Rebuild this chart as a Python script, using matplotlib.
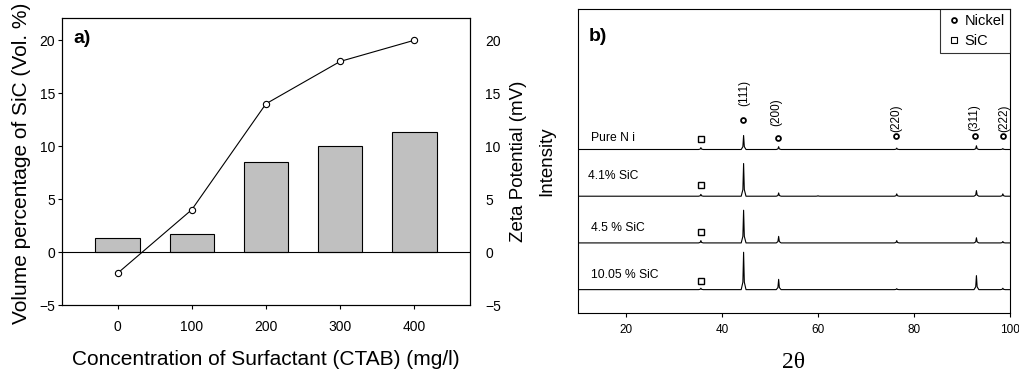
import numpy as np
import matplotlib
matplotlib.use('Agg')
from matplotlib import pyplot as plt
from matplotlib.lines import Line2D

plt.rcParams['font.family'] = ['Liberation Sans', 'DejaVu Sans']

# panel a data
ctab = [0, 100, 200, 300, 400]
sic_vol = [1.3, 1.7, 8.5, 10.05, 11.35]
zeta = [-2, 4, 14, 18, 20]

# panel b data: XRD patterns (peak positions and heights above baseline)
samples = ['10.05 % SiC', '4.5 % SiC', '4.1% SiC', 'Pure N i']
offsets = [0, 1, 2, 3]
peak_pos = [35.6, 44.5, 51.8, 60.0, 76.4, 93.0, 98.5]
peak_h = [
    [0.03, 0.80, 0.22, 0.00, 0.02, 0.30, 0.03],
    [0.05, 0.70, 0.14, 0.00, 0.05, 0.11, 0.03],
    [0.04, 0.70, 0.07, 0.01, 0.05, 0.12, 0.05],
    [0.04, 0.30, 0.06, 0.00, 0.03, 0.08, 0.02],
]
label_x = [12.7, 12.7, 12.1, 12.7]
label_dy = [0.32, 0.31, 0.43, 0.255]
sic_x = 35.6
sic_dy = [0.19, 0.23, 0.23, 0.23]
ni_x = [44.3, 51.7, 76.2, 92.8, 98.6]
ni_dy = [0.64, 0.25, 0.28, 0.28, 0.28]
hkl = ['(111)', '(200)', '(220)', '(311)', '(222)']
hkl_x = [44.6, 51.25, 76.4, 92.5, 98.75]
hkl_dy = [0.94, 0.51, 0.37, 0.39, 0.37]


def pattern(heights):
    xs = [10.0]
    ys = [0.0]
    for p, h in zip(peak_pos, heights):
        xs += [p - 0.5, p - 0.15, p, p + 0.15, p + 0.5]
        ys += [0.0, 0.2 * h, h, 0.2 * h, 0.0]
    xs.append(100.0)
    ys.append(0.0)
    return np.array(xs), np.array(ys)


fig = plt.figure(figsize=(10.19, 3.73), dpi=100)

# ---- panel a
ax = fig.add_axes([0.0608, 0.1823, 0.4004, 0.7694])
ax.bar(ctab, sic_vol, width=60, color='#c0c0c0', edgecolor='black', linewidth=0.8, zorder=2)
ax.axhline(0, color='black', linewidth=0.8, zorder=3)
ax.set_xlim(-75, 475)
ax.set_ylim(-5, 22.1)
ax.set_xticks(ctab)
ax.set_yticks([-5, 0, 5, 10, 15, 20])
ax.tick_params(labelsize=10, length=3, width=0.8, pad=2)
ax.tick_params(axis='x', pad=8)
ax.set_xlabel('Concentration of Surfactant (CTAB) (mg/l)', fontsize=15, va='center')
ax.xaxis.set_label_coords(0.5, -0.19)
ax.set_ylabel('Volume percentage of SiC (Vol. %)', fontsize=15, va='center')
ax.yaxis.set_label_coords(-0.098, 0.493)
ax.text(0.028, 0.93, 'a)', transform=ax.transAxes, fontsize=14, fontweight='bold', va='center')

ax2 = ax.twinx()
ax2.plot(ctab, zeta, color='black', linewidth=0.8, marker='o', markersize=4.5,
         markerfacecolor='white', markeredgecolor='black', markeredgewidth=0.8, zorder=4)
ax2.set_ylim(-5, 22.1)
ax2.set_yticks([-5, 0, 5, 10, 15, 20])
ax2.tick_params(labelsize=10, length=0, pad=11)
ax2.set_ylabel('Zeta Potential (mV)', fontsize=13.5, va='center')
ax2.yaxis.set_label_coords(1.12, 0.5)
for a in (ax, ax2):
    for s in a.spines.values():
        s.set_linewidth(0.8)

# ---- panel b
bx = fig.add_axes([0.5672, 0.1609, 0.424, 0.814])
for name, off, h, lx, ldy, sdy in zip(samples, offsets, peak_h, label_x, label_dy, sic_dy):
    xs, ys = pattern(h)
    bx.plot(xs, ys + off, color='black', linewidth=0.8)
    bx.text(lx, off + ldy, name, fontsize=8.7, va='center', ha='left')
    bx.plot([sic_x], [off + sdy], marker='s', markersize=5, markerfacecolor='white',
            markeredgecolor='black', markeredgewidth=1.0, linestyle='none')

top = offsets[-1]
for x, dy in zip(ni_x, ni_dy):
    bx.plot([x], [top + dy], marker='o', markersize=3.5, markerfacecolor='white',
            markeredgecolor='black', markeredgewidth=1.3, linestyle='none')
for t, x, dy in zip(hkl, hkl_x, hkl_dy):
    bx.text(x, top + dy, t, rotation=90, fontsize=8.5, ha='center', va='bottom')

bx.set_xlim(10, 100)
bx.set_ylim(-0.5, 6)
bx.set_xticks([20, 40, 60, 80, 100])
bx.set_yticks([])
bx.tick_params(labelsize=8.5, length=3, width=0.8, pad=5)
bx.set_xlabel('2\u03b8', fontsize=17, family=['Liberation Serif', 'DejaVu Serif'], va='center')
bx.xaxis.set_label_coords(0.5, -0.164)
bx.set_ylabel('Intensity', fontsize=13.5, va='center')
bx.yaxis.set_label_coords(-0.0718, 0.5)
bx.text(0.025, 0.91, 'b)', transform=bx.transAxes, fontsize=14, fontweight='bold', va='center')
for s in bx.spines.values():
    s.set_linewidth(0.8)

handles = [
    Line2D([], [], marker='o', markersize=3.5, markerfacecolor='white', markeredgecolor='black',
           markeredgewidth=1.3, linestyle='none'),
    Line2D([], [], marker='s', markersize=5, markerfacecolor='white', markeredgecolor='black',
           markeredgewidth=0.8, linestyle='none'),
]
leg = bx.legend(handles, ['Nickel', 'SiC'], loc='upper right', fontsize=10.5, frameon=True,
                fancybox=False, edgecolor='black', borderaxespad=0, handletextpad=0.15,
                handlelength=1.2, borderpad=0.35, labelspacing=0.4)
leg.get_frame().set_linewidth(0.8)

fig.savefig('out.png', dpi=100)
